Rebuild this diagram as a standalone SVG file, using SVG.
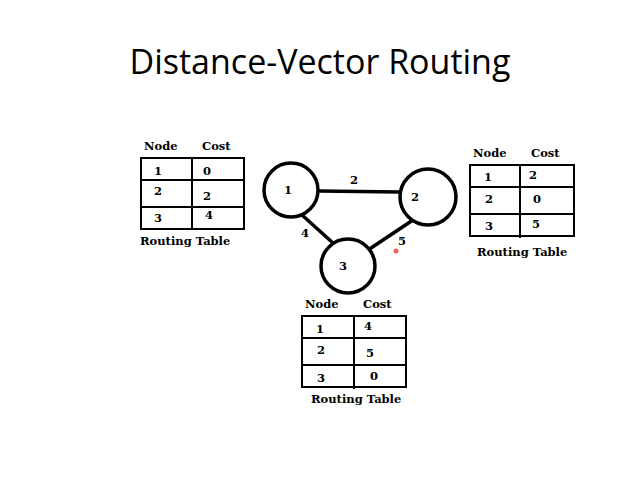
<svg xmlns="http://www.w3.org/2000/svg" width="640" height="480" viewBox="0 0 640 480">
<style>
.t{font-family:"DejaVu Serif",serif;font-weight:bold;font-size:11.5px;fill:#000}
.grid{fill:none;stroke:#000;stroke-width:2}
.nd{fill:#fff;stroke:#000;stroke-width:3.5}
.e{stroke:#000;stroke-width:3.5}
.title{font-family:"Open Sans","Liberation Sans",sans-serif;font-size:34px;fill:#000}
</style>
<rect width="640" height="480" fill="#fff"/>
<text class="title" x="320" y="74" text-anchor="middle">Distance-Vector Routing</text>
<g id="connectors">
<line class="e" x1="318" y1="191" x2="400" y2="192"/>
<line class="e" x1="302" y1="215" x2="333" y2="243"/>
<line class="e" x1="413" y1="220" x2="368" y2="250"/>
<text class="t" x="354" y="184" text-anchor="middle">2</text>
<text class="t" x="305" y="237" text-anchor="middle">4</text>
<text class="t" x="402" y="245" text-anchor="middle">5</text>
<circle cx="396" cy="251" r="2.5" fill="#f06060"/>
</g>
<g id="node1"><circle class="nd" cx="291" cy="190" r="27"/><text class="t" x="288" y="194" text-anchor="middle">1</text></g>
<g id="node2"><circle class="nd" cx="428" cy="197" r="28"/><text class="t" x="415" y="201" text-anchor="middle">2</text></g>
<g id="node3"><circle class="nd" cx="348" cy="266" r="27"/><text class="t" x="343" y="270" text-anchor="middle">3</text></g>
<g id="table1">
<text class="t" x="144" y="150">Node</text><text class="t" x="202" y="150">Cost</text>
<rect class="grid" x="141" y="158" width="103" height="71"/>
<line class="grid" x1="192" y1="158" x2="192" y2="230"/>
<line class="grid" x1="141" y1="180" x2="244" y2="180"/>
<line class="grid" x1="141" y1="207" x2="244" y2="207"/>
<text class="t" x="154" y="175">1</text><text class="t" x="203" y="175">0</text>
<text class="t" x="154" y="195">2</text><text class="t" x="203" y="200">2</text>
<text class="t" x="154" y="222">3</text><text class="t" x="205" y="219">4</text>
<text class="t" x="140" y="245">Routing Table</text>
</g>
<g id="table2">
<text class="t" x="473" y="157">Node</text><text class="t" x="531" y="157">Cost</text>
<rect class="grid" x="470" y="165" width="104" height="71"/>
<line class="grid" x1="520" y1="165" x2="520" y2="238"/>
<line class="grid" x1="470" y1="187" x2="574" y2="187"/>
<line class="grid" x1="470" y1="214" x2="574" y2="214"/>
<text class="t" x="484" y="181">1</text><text class="t" x="529" y="179">2</text>
<text class="t" x="485" y="203">2</text><text class="t" x="533" y="203">0</text>
<text class="t" x="485" y="230">3</text><text class="t" x="532" y="228">5</text>
<text class="t" x="477" y="256">Routing Table</text>
</g>
<g id="table3">
<text class="t" x="305" y="308">Node</text><text class="t" x="363" y="308">Cost</text>
<rect class="grid" x="302" y="316" width="104" height="71"/>
<line class="grid" x1="354" y1="316" x2="354" y2="389"/>
<line class="grid" x1="302" y1="338" x2="406" y2="338"/>
<line class="grid" x1="302" y1="365" x2="406" y2="365"/>
<text class="t" x="316" y="333">1</text><text class="t" x="364" y="330">4</text>
<text class="t" x="317" y="354">2</text><text class="t" x="366" y="357">5</text>
<text class="t" x="317" y="382">3</text><text class="t" x="370" y="380">0</text>
<text class="t" x="311" y="403">Routing Table</text>
</g>
</svg>
